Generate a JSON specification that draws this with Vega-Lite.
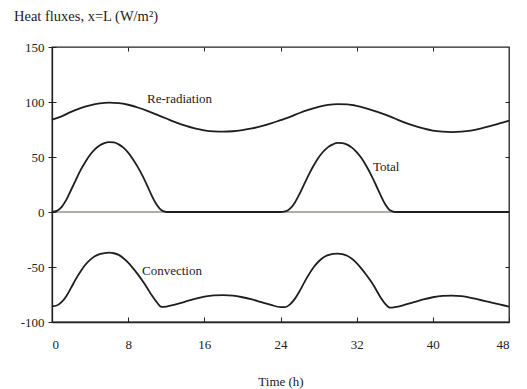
{
  "$schema": "https://vega.github.io/schema/vega-lite/v6.json",
  "width": 457,
  "height": 275,
  "autosize": {"type": "none"},
  "padding": {"left": 52, "top": 47, "right": 18, "bottom": 67},
  "config": {
    "font": "'Liberation Serif', 'Times New Roman', 'DejaVu Serif', serif",
    "view": {"stroke": "#222", "strokeWidth": 1.3},
    "axis": {"labelFont": "'Liberation Serif', 'Times New Roman', 'DejaVu Serif', serif", "titleFont": "'Liberation Serif', 'Times New Roman', 'DejaVu Serif', serif", "labelColor": "#222", "titleColor": "#222", "labelFontSize": 13, "titleFontSize": 13, "titleFontWeight": "normal", "domainColor": "#222", "tickColor": "#222", "grid": false, "domainWidth": 1.3, "tickWidth": 1}
  },
  "title": {"text": "Heat fluxes, x=L (W/m²)", "anchor": "start", "frame": "group", "dx": -38, "offset": 17, "font": "'Liberation Serif', 'Times New Roman', 'DejaVu Serif', serif", "fontSize": 14.5, "fontWeight": "normal", "color": "#222"},
  "datasets": {
    "rerad": [
      {"t": 0, "v": 84}, {"t": 1, "v": 87}, {"t": 2, "v": 91}, {"t": 3, "v": 94.5}, {"t": 4, "v": 97}, {"t": 5, "v": 98.7}, {"t": 6, "v": 99.4}, {"t": 7, "v": 99}, {"t": 8, "v": 97.5}, {"t": 9, "v": 95}, {"t": 10, "v": 92}, {"t": 11, "v": 88.5}, {"t": 12, "v": 85}, {"t": 13, "v": 81.5}, {"t": 14, "v": 78.5}, {"t": 15, "v": 76}, {"t": 16, "v": 74.3}, {"t": 17, "v": 73.3}, {"t": 18, "v": 73}, {"t": 19, "v": 73.4}, {"t": 20, "v": 74.5}, {"t": 21, "v": 76}, {"t": 22, "v": 78}, {"t": 23, "v": 80.5}, {"t": 24, "v": 83.5}, {"t": 25, "v": 86.5}, {"t": 26, "v": 90}, {"t": 27, "v": 93}, {"t": 28, "v": 95.5}, {"t": 29, "v": 97.3}, {"t": 30, "v": 98}, {"t": 31, "v": 97.8}, {"t": 32, "v": 96.5}, {"t": 33, "v": 94.3}, {"t": 34, "v": 91.5}, {"t": 35, "v": 88.5}, {"t": 36, "v": 85}, {"t": 37, "v": 81.5}, {"t": 38, "v": 78.5}, {"t": 39, "v": 76}, {"t": 40, "v": 74}, {"t": 41, "v": 73}, {"t": 42, "v": 72.6}, {"t": 43, "v": 73}, {"t": 44, "v": 74}, {"t": 45, "v": 75.8}, {"t": 46, "v": 78}, {"t": 47, "v": 80.5}, {"t": 48, "v": 83}
    ],
    "total": [
      {"t": 0, "v": 0}, {"t": 0.5, "v": 1}, {"t": 1, "v": 4.5}, {"t": 1.5, "v": 11}, {"t": 2, "v": 20}, {"t": 2.5, "v": 29}, {"t": 3, "v": 38}, {"t": 3.5, "v": 45.5}, {"t": 4, "v": 52}, {"t": 4.5, "v": 57}, {"t": 5, "v": 60.5}, {"t": 5.5, "v": 62.7}, {"t": 6, "v": 63.5}, {"t": 6.5, "v": 63.2}, {"t": 7, "v": 61.5}, {"t": 7.5, "v": 58.5}, {"t": 8, "v": 54}, {"t": 8.5, "v": 48}, {"t": 9, "v": 41}, {"t": 9.5, "v": 33}, {"t": 10, "v": 24}, {"t": 10.5, "v": 14.5}, {"t": 11, "v": 6.5}, {"t": 11.5, "v": 1.5}, {"t": 12, "v": 0}, {"t": 18, "v": 0}, {"t": 24, "v": 0},
      {"t": 24.5, "v": 0.5}, {"t": 25, "v": 3}, {"t": 25.5, "v": 8.5}, {"t": 26, "v": 16.5}, {"t": 26.5, "v": 25.5}, {"t": 27, "v": 34.5}, {"t": 27.5, "v": 42.5}, {"t": 28, "v": 49.5}, {"t": 28.5, "v": 55}, {"t": 29, "v": 59}, {"t": 29.5, "v": 61.5}, {"t": 30, "v": 62.8}, {"t": 30.5, "v": 62.7}, {"t": 31, "v": 61.3}, {"t": 31.5, "v": 58.5}, {"t": 32, "v": 54.5}, {"t": 32.5, "v": 49}, {"t": 33, "v": 42}, {"t": 33.5, "v": 34}, {"t": 34, "v": 25}, {"t": 34.5, "v": 15.5}, {"t": 35, "v": 7}, {"t": 35.5, "v": 1.5}, {"t": 36, "v": 0}, {"t": 42, "v": 0}, {"t": 48, "v": 0}
    ],
    "conv": [
      {"t": 0, "v": -85.7}, {"t": 0.5, "v": -85}, {"t": 1, "v": -82}, {"t": 1.5, "v": -76.5}, {"t": 2, "v": -69}, {"t": 2.5, "v": -61}, {"t": 3, "v": -54}, {"t": 3.5, "v": -48}, {"t": 4, "v": -43.5}, {"t": 4.5, "v": -40.3}, {"t": 5, "v": -38.3}, {"t": 5.5, "v": -37.3}, {"t": 6, "v": -37}, {"t": 6.5, "v": -37.5}, {"t": 7, "v": -39}, {"t": 7.5, "v": -42}, {"t": 8, "v": -46}, {"t": 8.5, "v": -51}, {"t": 9, "v": -56.5}, {"t": 9.5, "v": -62.5}, {"t": 10, "v": -69}, {"t": 10.5, "v": -76}, {"t": 11, "v": -82}, {"t": 11.5, "v": -86.3}, {"t": 12, "v": -86}, {"t": 13, "v": -84}, {"t": 14, "v": -81.5}, {"t": 15, "v": -79}, {"t": 16, "v": -77}, {"t": 17, "v": -75.8}, {"t": 18, "v": -75.5}, {"t": 19, "v": -76}, {"t": 20, "v": -77.5}, {"t": 21, "v": -79.5}, {"t": 22, "v": -82}, {"t": 23, "v": -84.5}, {"t": 24, "v": -86.5}, {"t": 24.5, "v": -86.5},
      {"t": 25, "v": -84}, {"t": 25.5, "v": -79}, {"t": 26, "v": -72}, {"t": 26.5, "v": -64}, {"t": 27, "v": -56.5}, {"t": 27.5, "v": -50}, {"t": 28, "v": -45}, {"t": 28.5, "v": -41.3}, {"t": 29, "v": -39.2}, {"t": 29.5, "v": -38}, {"t": 30, "v": -37.8}, {"t": 30.5, "v": -38.3}, {"t": 31, "v": -39.8}, {"t": 31.5, "v": -42.5}, {"t": 32, "v": -46.5}, {"t": 32.5, "v": -51.5}, {"t": 33, "v": -57}, {"t": 33.5, "v": -63}, {"t": 34, "v": -70}, {"t": 34.5, "v": -77.5}, {"t": 35, "v": -83.5}, {"t": 35.5, "v": -87}, {"t": 36, "v": -86.5}, {"t": 37, "v": -84.5}, {"t": 38, "v": -82}, {"t": 39, "v": -79.5}, {"t": 40, "v": -77.5}, {"t": 41, "v": -76.3}, {"t": 42, "v": -76}, {"t": 43, "v": -76.5}, {"t": 44, "v": -78}, {"t": 45, "v": -80}, {"t": 46, "v": -82}, {"t": 47, "v": -84}, {"t": 48, "v": -86}
    ],
    "labels": [
      {"t": 13.4, "v": 103, "label": "Re-radiation"},
      {"t": 35.1, "v": 40.6, "label": "Total"},
      {"t": 12.6, "v": -54, "label": "Convection"}
    ],
    "zero": [{"v": 0}]
  },
  "resolve": {"axis": {"x": "independent", "y": "independent"}},
  "layer": [
    {
      "data": {"name": "zero"},
      "mark": {"type": "rule", "color": "#5e5e48", "strokeWidth": 1},
      "encoding": {
        "y": {"field": "v", "type": "quantitative", "scale": {"domain": [-100, 150], "nice": false, "zero": false},
              "axis": {"orient": "left", "values": [-100, -50, 0, 50, 100, 150], "tickSize": 4, "labelPadding": 4, "labelFont": "Liberation Serif", "labelFontSize": 13, "labelExpr": "replace(datum.label, '−', '-')", "title": null, "domain": true}}
      }
    },
    {
      "data": {"name": "rerad"},
      "mark": {"type": "line", "color": "#1e1e1e", "strokeWidth": 1.8, "interpolate": "monotone"},
      "encoding": {
        "x": {"field": "t", "type": "quantitative", "scale": {"domain": [0, 48], "nice": false, "zero": false},
              "axis": {"orient": "bottom", "values": [0, 8, 16, 24, 32, 40, 48], "tickSize": -5, "labelPadding": 21, "labelFont": "Liberation Serif", "labelFontSize": 13, "titleFont": "Liberation Serif", "title": "Time (h)", "titlePadding": 24, "domain": true}},
        "y": {"field": "v", "type": "quantitative", "axis": {"orient": "left", "values": [-100, -50, 0, 50, 100, 150], "tickSize": -4, "labels": false, "domain": false, "title": null}}
      }
    },
    {
      "data": {"name": "total"},
      "mark": {"type": "line", "color": "#1e1e1e", "strokeWidth": 1.8, "interpolate": "monotone"},
      "encoding": {
        "x": {"field": "t", "type": "quantitative", "axis": {"orient": "top", "values": [8, 16, 24, 32, 40], "tickSize": -4, "labels": false, "domain": false, "title": null}},
        "y": {"field": "v", "type": "quantitative", "axis": {"orient": "right", "values": [-50, 0, 50, 100], "tickSize": -4, "labels": false, "domain": false, "title": null}}
      }
    },
    {
      "data": {"name": "conv"},
      "mark": {"type": "line", "color": "#1e1e1e", "strokeWidth": 1.8, "interpolate": "monotone"},
      "encoding": {
        "x": {"field": "t", "type": "quantitative", "axis": null},
        "y": {"field": "v", "type": "quantitative", "axis": null}
      }
    },
    {
      "data": {"name": "labels"},
      "mark": {"type": "text", "font": "Liberation Serif", "fontSize": 13, "color": "#222", "align": "center", "baseline": "middle"},
      "encoding": {
        "x": {"field": "t", "type": "quantitative", "axis": null},
        "y": {"field": "v", "type": "quantitative", "axis": null},
        "text": {"field": "label"}
      }
    }
  ]
}
